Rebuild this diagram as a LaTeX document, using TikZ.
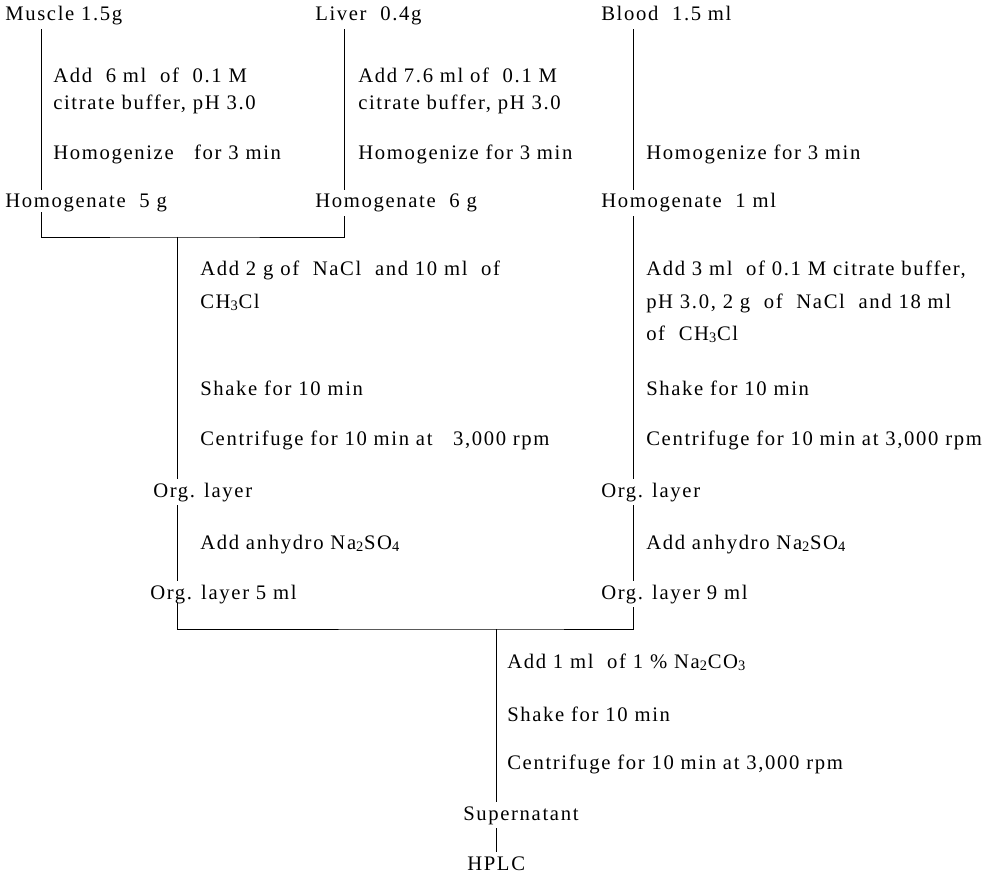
\documentclass[tikz,border=0pt]{standalone}
\usepackage{fontspec}
\setmainfont{Liberation Serif}[LetterSpace=8]
\usetikzlibrary{positioning}

\begin{document}
\begin{tikzpicture}[x=0.75pt,y=-0.75pt,
    lbl/.style={anchor=west,inner sep=0pt,text height=10.5pt,text depth=3pt,font=\fontsize{15.5}{18}\selectfont},
    flow/.style={line width=0.7pt,shorten <=3pt,shorten >=3pt}]
    \useasboundingbox (0,0) rectangle (1002,877);

    % Campioni
    \node[lbl] (muscle) at (5,16) {Muscle 1.5g};
    \node[lbl] (liver) at (315,16) {Liver\ \ 0.4g};
    \node[lbl] (blood) at (601,16) {Blood\ \ 1.5 ml};
    \coordinate (xm) at (41,0);
    \coordinate (xl) at (344,0);
    \coordinate (xb) at (633,0);

    % Muscolo
    \node[lbl] (m1) at (53,78) {Add\ \ 6 ml\ \ of\ \ 0.1 M};
    \node[lbl] (m2) at (53,105) {citrate buffer,\ pH 3.0};
    \node[lbl] (m3) at (53,155) {Homogenize\ \ \ for 3 min};

    % Fegato
    \node[lbl] (l1) at (358,78) {Add 7.6 ml of\ \ 0.1 M};
    \node[lbl] (l2) at (358,105) {citrate buffer,\ pH 3.0};
    \node[lbl] (l3) at (358,155) {Homogenize for 3 min};

    % Sangue
    \node[lbl] (b1) at (646,155) {Homogenize\ for\ 3 min};

    % Omogenati
    \node[lbl] (homm) at (5,203) {Homogenate\ \ 5 g};
    \node[lbl] (homl) at (315,203) {Homogenate\ \ 6 g};
    \node[lbl] (homb) at (601,203) {Homogenate\ \ 1 ml};
    \draw[flow] (muscle.south -| xm) -- (homm.north -| xm);
    \draw[flow] (liver.south -| xl) -- (homl.north -| xl);
    \draw[flow] (blood.south -| xb) -- (homb.north -| xb);

    % Estrazione muscolo + fegato
    \coordinate (br1) at (177,237);
    \node[lbl] (e1) at (200,270) {Add\ 2 g of\ \ NaCl\ \ and 10 ml\ \ of};
    \node[lbl] (e2) at (200,303) {CH\textsubscript{3}Cl};
    \node[lbl] (e3) at (200,390) {Shake\ for 10 min};
    \node[lbl] (e4) at (200,440) {Centrifuge\ for 10 min\ at\ \ \ 3,000 rpm};
    \node[lbl] (org1) at (153,492) {Org. layer};
    \draw[flow,shorten <=0pt] (homm.south -| xm) |- (br1) -| (homl.south -| xl);
    \draw[flow,shorten <=0pt] (br1) -- (org1.north -| br1);

    % Estrazione sangue
    \node[lbl] (s1) at (646,270) {Add\ 3 ml\ \ of\ 0.1 M citrate buffer,};
    \node[lbl] (s2) at (646,303) {pH 3.0,\ 2 g\ \ of\ \ NaCl\ \ and 18 ml};
    \node[lbl] (s3) at (646,335) {of\ \ CH\textsubscript{3}Cl};
    \node[lbl] (s4) at (646,390) {Shake\ for 10 min};
    \node[lbl] (s5) at (646,440) {Centrifuge\ for 10 min\ at\ 3,000 rpm};
    \node[lbl] (org2) at (601,492) {Org. layer};
    \draw[flow] (homb.south -| xb) -- (org2.north -| xb);

    % Disidratazione
    \node[lbl] (d1) at (200,544) {Add\ anhydro\ Na\textsubscript{2}SO\textsubscript{4}};
    \node[lbl] (d2) at (646,544) {Add\ anhydro\ Na\textsubscript{2}SO\textsubscript{4}};
    \node[lbl] (orgm) at (150,594) {Org. layer 5 ml};
    \node[lbl] (orgb) at (601,594) {Org. layer 9 ml};
    \draw[flow] (org1.south -| br1) -- (orgm.north -| br1);
    \draw[flow] (org2.south -| xb) -- (orgb.north -| xb);

    % Riunione e lavaggio
    \coordinate (br2) at (496,629);
    \node[lbl] (w1) at (507,663) {Add 1 ml\ \ of\ 1 \%\ Na\textsubscript{2}CO\textsubscript{3}};
    \node[lbl] (w2) at (507,716) {Shake\ for 10 min};
    \node[lbl] (w3) at (507,764) {Centrifuge\ for 10 min\ at\ 3,000 rpm};
    \node[lbl] (sup) at (463,815) {Supernatant};
    \node[lbl] (hplc) at (467,865) {HPLC};
    \draw[flow,shorten <=0pt] (orgm.south -| br1) |- (br2) -| (orgb.south -| xb);
    \draw[flow,shorten <=0pt] (br2) -- (sup.north -| br2);
    \draw[flow] (sup.south -| br2) -- (hplc.north -| br2);
\end{tikzpicture}
\end{document}
